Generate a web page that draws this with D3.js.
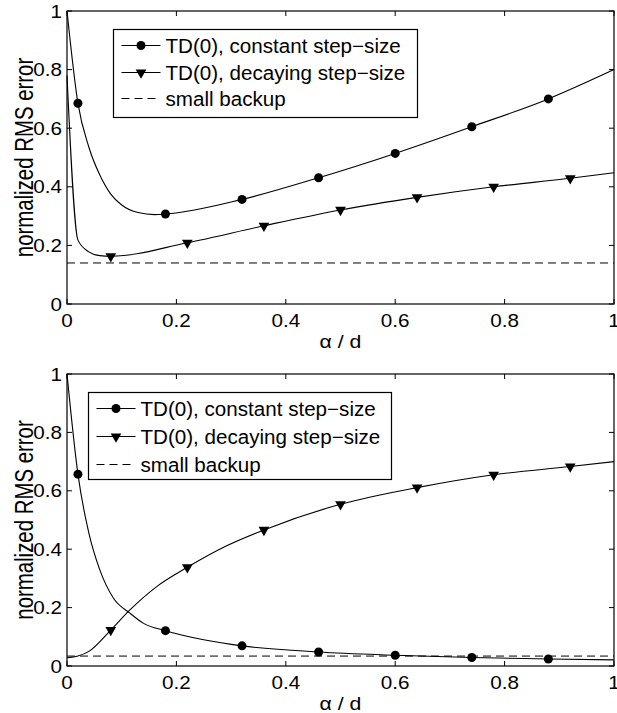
<!DOCTYPE html>
<html>
<head>
	<script src="https://d3js.org/d3.v7.min.js"></script>
	<title>RMS error vs alpha/d</title>
	<style>
		body { margin: 0; background: #fff; }
		text { font-family: "Liberation Sans", Arial, Helvetica, sans-serif; fill: #000; }
	</style>
</head>
<body>
	<svg id="chart" width="617" height="713"></svg>
	<script>
		// top panel
		var topConstX = [0, 0.02, 0.04, 0.06, 0.08, 0.10, 0.13, 0.16, 0.18, 0.32, 0.46, 0.60, 0.74, 0.88, 1.0];
		var topConstY = [1.0, 0.685, 0.535, 0.44, 0.375, 0.338, 0.312, 0.305, 0.307, 0.357, 0.431, 0.514, 0.605, 0.70, 0.80];
		var topDecayX = [0, 0.02, 0.04, 0.06, 0.08, 0.22, 0.36, 0.50, 0.64, 0.78, 0.92, 1.0];
		var topDecayY = [0.78, 0.218, 0.178, 0.165, 0.163, 0.209, 0.267, 0.321, 0.364, 0.40, 0.429, 0.448];
		var topBackup = 0.14;

		// bottom panel
		var botConstX = [0, 0.02, 0.04, 0.06, 0.085, 0.115, 0.14, 0.18, 0.25, 0.32, 0.46, 0.60, 0.74, 0.88, 1.0];
		var botConstY = [1.0, 0.657, 0.455, 0.329, 0.232, 0.181, 0.146, 0.121, 0.09, 0.069, 0.048, 0.037, 0.029, 0.024, 0.021];
		var botDecayX = [0, 0.02, 0.04, 0.08, 0.115, 0.164, 0.22, 0.29, 0.36, 0.50, 0.64, 0.78, 0.92, 1.0];
		var botDecayY = [0.028, 0.034, 0.05, 0.123, 0.192, 0.272, 0.338, 0.41, 0.466, 0.554, 0.611, 0.655, 0.683, 0.70];
		var botBackup = 0.034;

		var constMarks = [0.02, 0.18, 0.32, 0.46, 0.60, 0.74, 0.88];
		var decayMarks = [0.08, 0.22, 0.36, 0.50, 0.64, 0.78, 0.92];

		var xTicks = [0, 0.2, 0.4, 0.6, 0.8, 1];
		var yTicks = [0, 0.2, 0.4, 0.6, 0.8, 1];
		var legendLabels = ["TD(0), constant step\u2212size", "TD(0), decaying step\u2212size", "small backup"];

		var svg = d3.select("#chart");
		var left = 67, right = 614;

		function zip(xs, ys) {
			return xs.map(function(x, i) { return {x: x, y: ys[i]}; });
		}

		// horizontal text, widened by sx around its anchor point
		function wideText(sel, x, y, size, anchor, str, sx) {
			return sel.append("text")
				.attr("transform", "translate(" + x + "," + y + ") scale(" + sx + ",1)")
				.attr("text-anchor", anchor).attr("font-size", size).text(str);
		}

		function drawPanel(top, bottom, cX, cY, dX, dY, backup, leg) {
			var g = svg.append("g");
			var x = d3.scaleLinear().domain([0, 1]).range([left, right]);
			var y = d3.scaleLinear().domain([0, 1]).range([bottom, top]);

			var line = d3.line().x(d => x(d.x)).y(d => y(d.y)).curve(d3.curveMonotoneX);
			var cData = zip(cX, cY), dData = zip(dX, dY);

			// backup dashed
			g.append("line")
				.attr("x1", x(0)).attr("x2", x(1))
				.attr("y1", y(backup)).attr("y2", y(backup))
				.attr("stroke", "#000").attr("stroke-width", 1)
				.attr("stroke-dasharray", "8,5");

			g.append("path").datum(cData).attr("d", line)
				.attr("fill", "none").attr("stroke", "#000").attr("stroke-width", 1.1);
			g.append("path").datum(dData).attr("d", line)
				.attr("fill", "none").attr("stroke", "#000").attr("stroke-width", 1.1);

			g.selectAll("circle.mk").data(constMarks).enter().append("circle")
				.attr("class", "mk")
				.attr("cx", d => x(d))
				.attr("cy", d => y(cY[cX.indexOf(d)]))
				.attr("r", 4.5).attr("fill", "#000");

			var tri = d3.symbol().type(d3.symbolTriangle).size(50);
			g.selectAll("path.tri").data(decayMarks).enter().append("path")
				.attr("class", "tri")
				.attr("d", tri)
				.attr("transform", d => "translate(" + x(d) + "," + y(dY[dX.indexOf(d)]) + ") rotate(180)")
				.attr("fill", "#000");

			// box + inward ticks
			g.append("rect").attr("x", left).attr("y", top)
				.attr("width", right - left).attr("height", bottom - top)
				.attr("fill", "none").attr("stroke", "#000").attr("stroke-width", 1.2);

			xTicks.forEach(function(t) {
				g.append("line").attr("x1", x(t)).attr("x2", x(t)).attr("y1", bottom).attr("y2", bottom - 5).attr("stroke", "#000");
				g.append("line").attr("x1", x(t)).attr("x2", x(t)).attr("y1", top).attr("y2", top + 5).attr("stroke", "#000");
				wideText(g, x(t), bottom + 23, 17.5, "middle", d3.format("")(t), 1.18);
			});
			yTicks.forEach(function(t) {
				g.append("line").attr("x1", left).attr("x2", left + 5).attr("y1", y(t)).attr("y2", y(t)).attr("stroke", "#000");
				g.append("line").attr("x1", right).attr("x2", right - 5).attr("y1", y(t)).attr("y2", y(t)).attr("stroke", "#000");
				wideText(g, left - 5, y(t) + 6.5, 17.5, "end", d3.format("")(t), 1.18);
			});

			wideText(g, (left + right) / 2, bottom + 44, 18, "middle", "\u03b1 / d", 1.18);
			g.append("text")
				.attr("transform", "translate(" + 33 + "," + ((top + bottom) / 2) + ") rotate(-90) scale(1,1.25)")
				.attr("text-anchor", "middle").attr("font-size", 20.4).text("normalized RMS error");

			// legend
			var lg = g.append("g").attr("transform", "translate(" + leg.x + "," + leg.y + ")");
			lg.append("rect").attr("width", leg.w).attr("height", leg.h)
				.attr("fill", "#fff").attr("stroke", "#000").attr("stroke-width", 1.2);
			legendLabels.forEach(function(lab, i) {
				var ry = leg.rows[i];
				var ln = lg.append("line").attr("x1", 8).attr("x2", 47).attr("y1", ry).attr("y2", ry)
					.attr("stroke", "#000").attr("stroke-width", 1.1);
				if (i === 2) ln.attr("stroke-dasharray", "8,5");
				if (i === 0) lg.append("circle").attr("cx", 27.5).attr("cy", ry).attr("r", 4.5).attr("fill", "#000");
				if (i === 1) lg.append("path").attr("d", tri)
					.attr("transform", "translate(27.5," + ry + ") rotate(180)").attr("fill", "#000");
				wideText(lg, 52, ry + 7, 20, "start", lab, 1.03);
			});
		}

		drawPanel(11, 304, topConstX, topConstY, topDecayX, topDecayY, topBackup,
			{x: 113.5, y: 29.5, w: 304, h: 88, rows: [16, 43, 69]});
		drawPanel(374, 666, botConstX, botConstY, botDecayX, botDecayY, botBackup,
			{x: 88.5, y: 392.5, w: 303, h: 87, rows: [16, 44, 72]});
	</script>
</body>
</html>
